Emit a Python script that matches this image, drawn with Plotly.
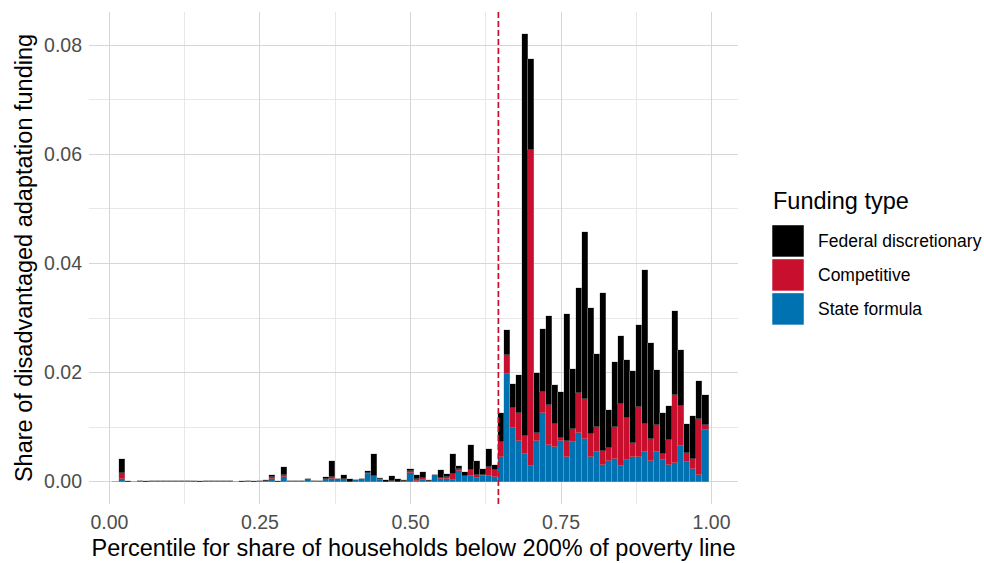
import plotly.graph_objects as go

# Percentile bins (centre of each 1% bin)
percentile = [k / 100 for k in range(1, 100)]

# Shares (in thousandths, converted below), k = 1..99
state_formula_milli = [
    0, 0.45, 0, 0, 0.03, 0, 0.15, 0.03, 0.03, 0.15,
    0.03, 0.03, 0.03, 0, 0, 0.03, 0.03, 0.1, 0.03, 0.03,
    0, 0, 0.15, 0, 0.15, 0.05, 0.4, 0, 0.9, 0.03,
    0.03, 0.03, 0.45, 0.03, 0, 0.4, 0.4, 0.4, 0.4, 0,
    0.25, 0.55, 1.35, 1.0, 0.3, 0, 0.1, 0, 0, 1.55,
    0.2, 0.3, 0.05, 1.2, 0.5, 0.5, 0.37, 1.95, 0.95, 0.95,
    0.7, 0.95, 1.1, 0.9, 4.5, 19.8, 9.8, 7.5, 5.1, 2.9,
    7.4, 12.5, 6.8, 6.3, 7.4, 4.6, 7.3, 8.9, 7.9, 4.6,
    5.4, 3.0, 3.7, 4.2, 2.8, 3.9, 4.5, 4.5, 5.4, 3.7,
    5.4, 3.9, 3.1, 3.5, 6.6, 3.6, 2.3, 1.2, 9.5,
]
competitive_milli = [
    0, 1.1, 0, 0, 0, 0, 0, 0, 0, 0,
    0, 0, 0, 0.15, 0, 0, 0, 0, 0, 0,
    0, 0, 0, 0, 0, 0.05, 0.4, 0, 0.3, 0,
    0, 0, 0, 0, 0.05, 0, 0.4, 0, 0, 0,
    0, 0, 0.2, 0, 0.1, 0, 0, 0, 0.1, 0.4,
    0.2, 0.35, 0, 0, 0.25, 0.3, 1.0, 0.4, 0.1, 1.15,
    0.45, 0.3, 1.6, 1.2, 2.7, 3.5, 3.7, 5.1, 3.3, 57.9,
    1.6, 3.9, 7.3, 4.3, 0.6, 2.8, 2.3, 7.3, 7.2, 4.2,
    4.6, 2.7, 2.5, 5.9, 11.5, 7.8, 2.6, 9.1, 5.2, 4.2,
    4.9, 1.2, 4.5, 12.4, 7.3, 1.7, 1.9, 10.2, 0.9,
]
federal_discretionary_milli = [
    0, 2.65, 0.03, 0, 0, 0.2, 0, 0, 0, 0,
    0, 0, 0, 0, 0.1, 0, 0, 0, 0, 0,
    0, 0.15, 0, 0.15, 0, 0.2, 0.5, 0.2, 1.4, 0,
    0, 0, 0, 0, 0.05, 0.45, 2.9, 0, 0.9, 0.5,
    0, 0, 0.35, 4.1, 0.3, 0.35, 0.9, 0.55, 0.2, 0.3,
    0.9, 1.15, 0.3, 0.1, 1.4, 0.6, 3.7, 0.55, 0.75, 4.7,
    2.55, 1.0, 3.2, 0.9, 5.4, 4.5, 4.4, 6.9, 73.6, 16.6,
    10.9, 11.6, 16.2, 7.2, 8.4, 23.4, 11.1, 19.3, 30.7, 23.1,
    13.4, 28.8, 7.0, 11.8, 12.4, 10.6, 13.2, 15.2, 28.2, 17.5,
    10.1, 7.5, 6.3, 15.3, 10.2, 5.2, 7.8, 7.0, 5.4,
]

state_formula = [v / 1000 for v in state_formula_milli]
competitive = [v / 1000 for v in competitive_milli]
federal_discretionary = [v / 1000 for v in federal_discretionary_milli]

THRESHOLD = 0.646  # dashed reference line

x_ticks = [0, 0.25, 0.5, 0.75, 1.0]
y_ticks = [0, 0.02, 0.04, 0.06, 0.08]

legend_title = "Funding type"
legend_order = ["Federal discretionary", "Competitive", "State formula"]

COL_STATE = "#0072B2"
COL_COMP = "#C8102E"
COL_FED = "#000000"
FONT = "Liberation Sans, Arial, Helvetica, sans-serif"

W, H = 984, 563
ML, MR, MT, MB = 88.8, 245.8, 12.2, 58.6
PW, PH = W - ML - MR, H - MT - MB


def px_x(p):
    return (p - ML) / PW


def px_y(p):
    return (H - MB - p) / PH


fig = go.Figure()
series = [
    ("State formula", state_formula, COL_STATE),
    ("Competitive", competitive, COL_COMP),
    ("Federal discretionary", federal_discretionary, COL_FED),
]
colors = {}
for name, vals, col in series:
    colors[name] = col
    fig.add_trace(go.Bar(
        x=percentile, y=vals, name=name, width=0.01,
        marker=dict(color=col, line=dict(color="rgba(170,170,170,0.9)", width=0.4)),
        showlegend=False,
    ))

fig.update_layout(
    width=W, height=H,
    barmode="stack", bargap=0,
    plot_bgcolor="white", paper_bgcolor="white",
    margin=dict(l=ML, r=MR, t=MT, b=MB, autoexpand=False),
    font=dict(family=FONT, color="#000000"),
    showlegend=False,
)

fig.add_vline(x=THRESHOLD, line=dict(color=COL_COMP, width=1.7, dash="6px,3px"))

# Legend drawn ggplot-style: large key blocks
fig.add_annotation(
    text=legend_title, xref="paper", yref="paper",
    x=px_x(771), y=px_y(201), xanchor="left", yanchor="middle",
    showarrow=False, font=dict(size=23.5, color="#000000"),
)
key_top, key_h, key_step = 225.5, 31.5, 34
for i, name in enumerate(legend_order):
    t = key_top + i * key_step
    fig.add_shape(
        type="rect", xref="paper", yref="paper",
        x0=px_x(772.5), x1=px_x(804), y0=px_y(t + key_h), y1=px_y(t),
        fillcolor=colors[name], line=dict(width=0), layer="above",
    )
    fig.add_annotation(
        text=name, xref="paper", yref="paper",
        x=px_x(816.5), y=px_y(t + key_h / 2), xanchor="left", yanchor="middle",
        showarrow=False, font=dict(size=17.5, color="#000000"),
    )

fig.update_xaxes(
    range=[-0.034, 1.044], tickvals=x_ticks, tickformat=".2f",
    showgrid=True, gridcolor="#D6D6D6", gridwidth=1.4, zeroline=False,
    minor=dict(dtick=0.125, tick0=0, showgrid=True, gridcolor="#E8E8E8", gridwidth=0.8),
    tickfont=dict(size=19.5, color="#4D4D4D"), ticklabelstandoff=4,
    title=dict(text="Percentile for share of households below 200% of poverty line",
               font=dict(size=23.5, color="#000000"), standoff=8),
    showline=False, ticks="",
)
fig.update_yaxes(
    range=[-0.0041, 0.0861], tickvals=y_ticks, tickformat=".2f",
    showgrid=True, gridcolor="#D6D6D6", gridwidth=1.4, zeroline=False,
    minor=dict(dtick=0.01, tick0=0, showgrid=True, gridcolor="#E8E8E8", gridwidth=0.8),
    tickfont=dict(size=19.5, color="#4D4D4D"), ticklabelstandoff=6,
    title=dict(text="Share of disadvantaged adaptation funding",
               font=dict(size=23.5, color="#000000"), standoff=4),
    showline=False, ticks="",
)

fig.write_html("out.html")
